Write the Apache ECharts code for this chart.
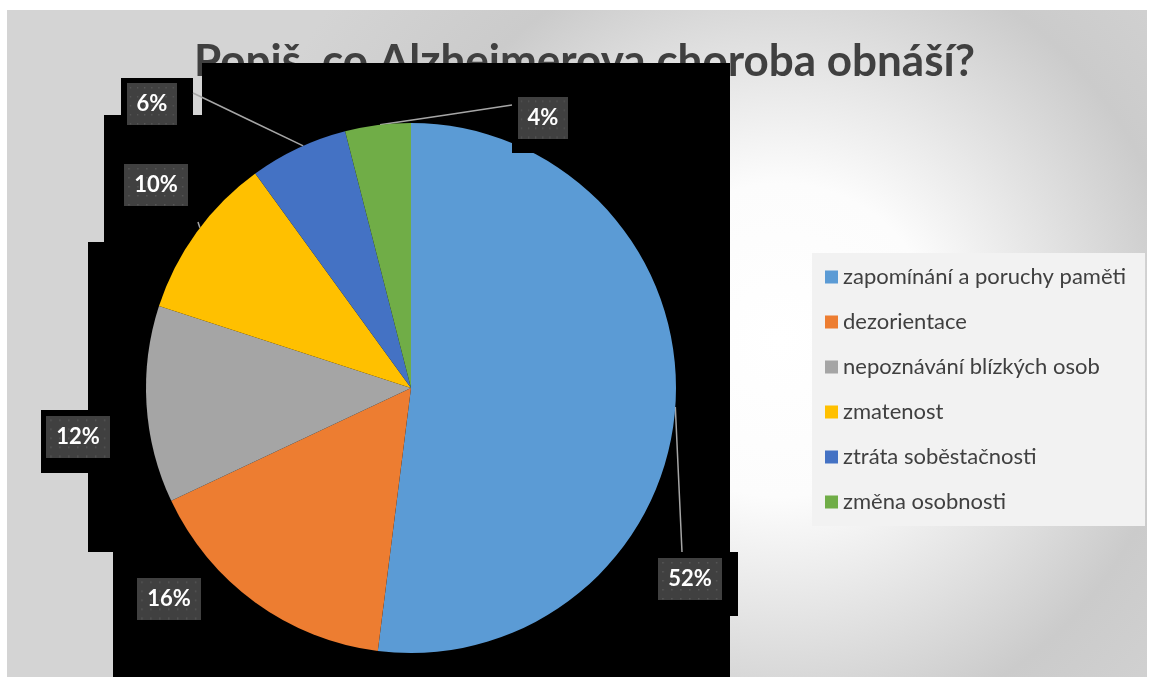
<!DOCTYPE html>
<html>
<head>
<meta charset="utf-8">
<script src="https://cdn.jsdelivr.net/npm/echarts@6/dist/echarts.min.js"></script>
<style>
  html, body { margin: 0; padding: 0; background: #ffffff; }
  #chart { width: 1149px; height: 677px; }
</style>
</head>
<body>
<div id="chart"></div>
<script>
// Survey answers and their shares (%)
const categories = [
  'zapomínání a poruchy paměti',
  'dezorientace',
  'nepoznávání blízkých osob',
  'zmatenost',
  'ztráta soběstačnosti',
  'změna osobnosti'
];
const shares = [52, 16, 12, 10, 6, 4];
const sliceColors = ['#5b9bd5', '#ed7d31', '#a5a5a5', '#ffc000', '#4472c4', '#70ad47'];
const titleText = 'Popiš, co Alzheimerova choroba obnáší?';

// Pie geometry (pixels)
const PIE_CENTER = [411, 388];
const PIE_RADIUS = 265;

// Where each percentage box sits; leaders start on the rim at rimAngle
// (degrees clockwise from 12 o'clock) and end at lineEnd.
const LABEL_SPOTS = [
  { center: [690, 579],   rimAngle: 94.1,  lineEnd: [682, 552] },
  { center: [169, 598.5], rimAngle: null,  lineEnd: null },
  { center: [78, 436.5],  rimAngle: null,  lineEnd: null },
  { center: [156, 185],   rimAngle: 307.2, lineEnd: [198, 222] },
  { center: [152, 104],   rimAngle: 336,   lineEnd: [193, 93] },
  { center: [543, 117.5], rimAngle: 353.3, lineEnd: [512, 105] }
];

// Dark backdrop blocks behind the pie: [x, y, width, height]
const BACKDROP_BLOCKS = [
  [202, 63, 528, 614],
  [104, 115, 98, 437],
  [88, 242, 16, 310],
  [113, 552, 89, 125],
  [121, 78, 72, 37],
  [41, 410, 47, 63],
  [730, 552, 8, 64]
];
// backdrop piece that sits over the pie rim under the small top label
const RIM_BLOCK = [512, 140, 68, 13];

// Dotted dark fill for the percentage boxes
function dottedFill() {
  const c = document.createElement('canvas');
  c.width = 64; c.height = 42;
  const g = c.getContext('2d');
  g.fillStyle = '#404040';
  g.fillRect(0, 0, 64, 42);
  g.fillStyle = '#585858';
  for (let y = 4; y < 42; y += 9) {
    for (let x = 4; x < 64; x += 9) g.fillRect(x, y, 1.5, 1.5);
  }
  return c;
}

const chart = echarts.init(document.getElementById('chart'), null, { renderer: 'canvas' });

const elements = [
  {
    type: 'rect', z: 0, silent: true,
    shape: { x: 7, y: 10, width: 1140, height: 667 },
    style: {
      fill: {
        type: 'radial', x: 780, y: 340, r: 560, global: true,
        colorStops: [
          { offset: 0, color: '#ffffff' },
          { offset: 0.28, color: '#fcfcfc' },
          { offset: 0.72, color: '#cbcbcb' },
          { offset: 1, color: '#d4d4d4' }
        ]
      }
    }
  },
  {
    type: 'text', z: 0.5, silent: true,
    style: {
      text: titleText, x: 584.5, y: 62,
      align: 'center', verticalAlign: 'middle',
      textAlign: 'center', textVerticalAlign: 'middle',
      font: 'bold 44px Lato', fill: '#404040'
    }
  }
];
BACKDROP_BLOCKS.forEach(function (b) {
  elements.push({
    type: 'rect', z: 1, silent: true,
    shape: { x: b[0], y: b[1], width: b[2], height: b[3] },
    style: { fill: '#000000' }
  });
});
elements.push({
  type: 'rect', z: 3, silent: true,
  shape: { x: RIM_BLOCK[0], y: RIM_BLOCK[1], width: RIM_BLOCK[2], height: RIM_BLOCK[3] },
  style: { fill: '#000000' }
});

const dots = dottedFill();

chart.setOption({
  animation: false,
  graphic: { elements: elements },
  legend: {
    orient: 'vertical',
    left: 812, top: 253,
    padding: [13, 19, 13, 13],
    itemGap: 23,
    itemWidth: 13, itemHeight: 13,
    icon: 'rect',
    backgroundColor: '#f2f2f2',
    selectedMode: false,
    textStyle: { fontFamily: 'Lato', fontSize: 22, lineHeight: 20, color: '#404040' },
    data: categories
  },
  series: [{
    type: 'pie',
    center: PIE_CENTER,
    radius: PIE_RADIUS,
    startAngle: 90,
    clockwise: true,
    avoidLabelOverlap: false,
    silent: true,
    itemStyle: { borderWidth: 0 },
    label: {
      show: true,
      position: 'outside',
      formatter: '{c}%',
      color: '#ffffff',
      fontFamily: 'Lato',
      fontWeight: 'bold',
      fontSize: 22,
      lineHeight: 22,
      padding: [10, 10, 10, 10],
      backgroundColor: { image: dots }
    },
    labelLine: { show: true, lineStyle: { color: '#a6a6a6', width: 1.5 } },
    labelLayout: function (p) {
      const spot = LABEL_SPOTS[p.dataIndex];
      const out = { x: spot.center[0], y: spot.center[1], align: 'center', verticalAlign: 'middle' };
      if (spot.lineEnd) {
        const a = spot.rimAngle * Math.PI / 180;
        const s = [PIE_CENTER[0] + PIE_RADIUS * Math.sin(a), PIE_CENTER[1] - PIE_RADIUS * Math.cos(a)];
        const e = spot.lineEnd;
        out.labelLinePoints = [s, [(s[0] + e[0]) / 2, (s[1] + e[1]) / 2], e];
      }
      return out;
    },
    data: categories.map(function (name, i) {
      const item = { name: name, value: shares[i], itemStyle: { color: sliceColors[i] } };
      if (!LABEL_SPOTS[i].lineEnd) item.labelLine = { show: false };
      return item;
    })
  }]
});
</script>
</body>
</html>
